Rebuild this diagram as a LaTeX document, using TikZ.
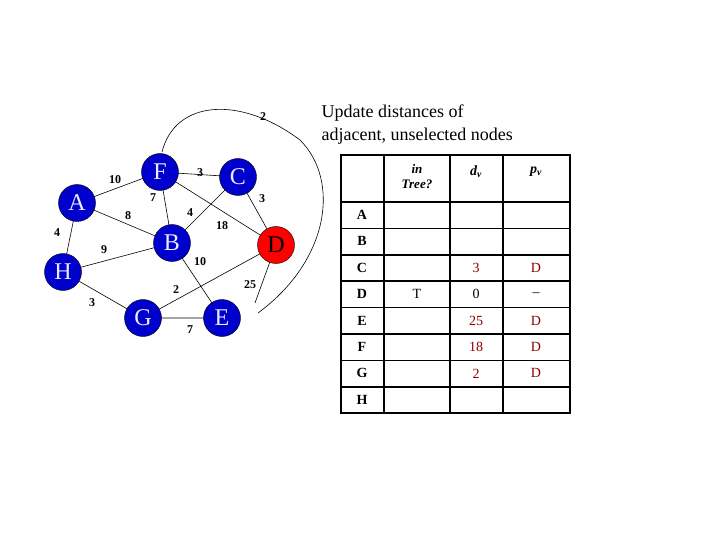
\documentclass[tikz,border=0pt]{standalone}
\usepackage{fontspec}
\setmainfont{Liberation Serif}
\begin{document}
\begin{tikzpicture}[x=1pt,y=-1pt,
 v/.style={circle,fill=blue!80!black,draw=black,minimum size=37pt,inner sep=0pt,text=blue!8,font=\fontsize{24}{24}\selectfont},
 w/.style={font=\bfseries\fontsize{12}{12}\selectfont},
 e/.style={draw=black,line width=0.6pt},
 tl/.style={font=\bfseries\fontsize{14}{14}\selectfont},
 tv/.style={font=\fontsize{14}{14}\selectfont,text=red!55!black}]
\useasboundingbox (0,0) rectangle (720,540);
\coordinate (Fp) at (160,172);\coordinate (Cp) at (238,177);\coordinate (Ap) at (77,203);\coordinate (Bp) at (172,243);
\coordinate (Dp) at (276,245);\coordinate (Hp) at (63,272);\coordinate (Gp) at (143,318);\coordinate (Ep) at (222,318);
\coordinate (e25) at (255,303);
\coordinate (c2) at (258,313);
\draw[e] (Ap)--(Fp) (Ap)--(Bp) (Ap)--(Hp) (Fp)--(Cp) (Fp)--(Bp) (Fp)--(Dp) (Cp)--(Bp) (Cp)--(Dp) (Bp)--(Hp) (Bp)--(Ep) (Hp)--(Gp) (Gp)--(Dp) (Gp)--(Ep) (Dp)--(e25);
\draw[e] (162,152) .. controls (175,100) and (240,95) .. (300,140) .. controls (340,180) and (330,260) .. (c2);
\node[v] (F) at (Fp) {F};\node[v] (C) at (Cp) {C};\node[v] (A) at (Ap) {A};\node[v] (B) at (Bp) {B};
\node[v,fill=red,text=black] (D) at (Dp) {D};\node[v] (H) at (Hp) {H};\node[v] (G) at (Gp) {G};\node[v] (E) at (Ep) {E};
\node[w] at (115,180) {10};\node[w] at (153,198) {7};\node[w] at (200,173) {3};\node[w] at (128,216) {8};
\node[w] at (190,213) {4};\node[w] at (262,199) {3};\node[w] at (222,226) {18};\node[w] at (57,233) {4};
\node[w] at (104,250) {9};\node[w] at (200,262) {10};\node[w] at (176,290) {2};\node[w] at (250,285) {25};
\node[w] at (92,303) {3};\node[w] at (190,330) {7};\node[w] at (263,117) {2};
\node[align=left,anchor=west,font=\fontsize{18}{23}\selectfont] at (318,125) {Update distances of\\adjacent, unselected nodes};
% table
\draw[line width=2pt] (341,155) rectangle (570,413);
\foreach \x in {384,450,503} \draw[line width=1.5pt] (\x,155)--(\x,413);
\foreach \i in {0,...,7} \draw[line width=1.5pt] (341,{202+26.4*\i})--(570,{202+26.4*\i});
\node[align=center,font=\bfseries\itshape\fontsize{13}{15}\selectfont] at (417,177) {in\\Tree?};
\node[font=\bfseries\itshape\fontsize{14}{14}\selectfont] at (476,172) {d\textsubscript{v}};
\node[font=\bfseries\itshape\fontsize{14}{14}\selectfont] at (536,172) {p\textsubscript{v}};
\foreach \n [count=\i from 0] in {A,B,C,D,E,F,G,H} \node[tl] at (362,{215+26.4*\i}) {\n};
\node[tv] at (476,{215+26.4*2}) {3};\node[tv] at (536,{215+26.4*2}) {D};
\node[font=\fontsize{14}{14}\selectfont] at (417,{215+26.4*3}) {T};
\node[font=\fontsize{14}{14}\selectfont] at (476,{215+26.4*3}) {0};
\node[font=\fontsize{14}{14}\selectfont] at (536,{215+26.4*3}) {--};
\node[tv] at (476,{215+26.4*4}) {25};\node[tv] at (536,{215+26.4*4}) {D};
\node[tv] at (476,{215+26.4*5}) {18};\node[tv] at (536,{215+26.4*5}) {D};
\node[tv] at (476,{215+26.4*6}) {2};\node[tv] at (536,{215+26.4*6}) {D};
\end{tikzpicture}
\end{document}
